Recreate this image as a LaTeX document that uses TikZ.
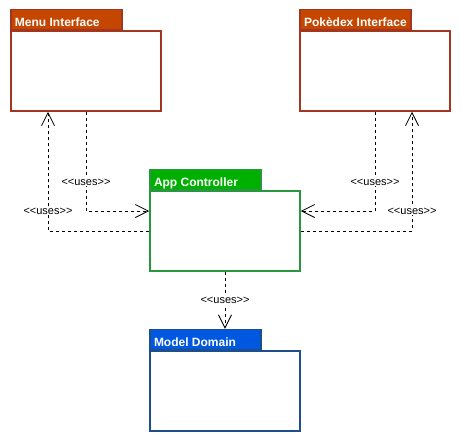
\documentclass[tikz,border=0pt]{standalone}
\usepackage{fontspec}
\setmainfont{Liberation Sans}
\usetikzlibrary{arrows.meta}
\definecolor{menufill}{HTML}{C44600}
\definecolor{menuline}{HTML}{A3361E}
\definecolor{ctrlfill}{HTML}{00B000}
\definecolor{ctrlline}{HTML}{2A9640}
\definecolor{modelfill}{HTML}{0058E0}
\definecolor{modelline}{HTML}{1F4E8C}
\newcommand{\tabtext}[1]{\makebox[103pt][l]{#1}}
\tikzset{
   pkgbody/.style={draw, line width=1.5pt, fill=white, minimum width=150pt, minimum height=80pt, inner sep=0pt},
   pkgtab/.style={draw, line width=1.5pt, anchor=south west, text=white, font=\fontsize{12}{14}\selectfont\bfseries,
      inner sep=0pt, minimum width=111pt, minimum height=20pt, text height=13pt, text depth=0pt},
   uses/.style={draw=black, line width=0.8pt, dash pattern=on 3pt off 3pt, -{Straight Barb[length=13pt,width=13pt,line width=0.8pt]}},
   useslabel/.style={fill=white, inner sep=1pt, font=\fontsize{11}{13}\selectfont}
}
\begin{document}
\begin{tikzpicture}[x=1pt,y=-1pt]
   \useasboundingbox (0,0) rectangle (461,442);
   % packages
   \node[pkgbody, draw=menuline] (menu) at (86,71) {};
   \node[pkgtab, fill=menufill, draw=menuline] (menutab) at (menu.north west) {\tabtext{Menu Interface}};
   \node[pkgbody, draw=menuline] (poke) at (375,71) {};
   \node[pkgtab, fill=menufill, draw=menuline] (poketab) at (poke.north west) {\tabtext{Pokèdex Interface}};
   \node[pkgbody, draw=ctrlline] (app) at (225,231) {};
   \node[pkgtab, fill=ctrlfill, draw=ctrlline] (apptab) at (app.north west) {\tabtext{App Controller}};
   \node[pkgbody, draw=modelline] (model) at (225,391) {};
   \node[pkgtab, fill=modelfill, draw=modelline] (modeltab) at (model.north west) {\tabtext{Model Domain}};
   % dependencies
   \draw[uses] (menu.south) |- ([yshift=20pt]app.west) node[useslabel, pos=0.355]{<{}<uses>{}>};
   \draw[uses] (app.west) -| ([xshift=-38pt]menu.south) node[useslabel, pos=0.583]{<{}<uses>{}>};
   \draw[uses] (poke.south) |- ([yshift=20pt]app.east) node[useslabel, pos=0.355]{<{}<uses>{}>};
   \draw[uses] (app.east) -| ([xshift=37pt]poke.south) node[useslabel, pos=0.583]{<{}<uses>{}>};
   \draw[uses] (app.south) -- (app.south |- modeltab.north) node[useslabel, midway]{<{}<uses>{}>};
\end{tikzpicture}
\end{document}
